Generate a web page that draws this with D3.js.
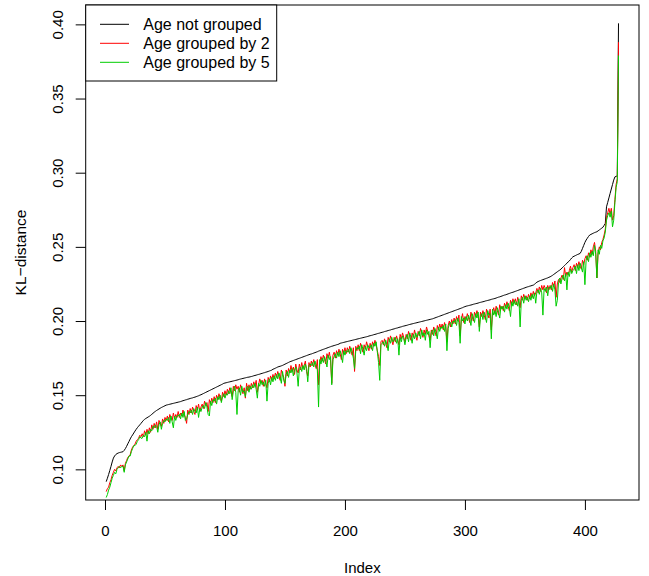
<!DOCTYPE html>
<html lang="en">
<head>
<meta charset="UTF-8">
<title>KL-distance by index</title>
<script src="https://d3js.org/d3.v7.min.js"></script>
<style>
  body { margin: 0; background: #fff; }
  text { font-family: "Liberation Sans", Arial, sans-serif; fill: #000; }
</style>
</head>
<body>
<script>
// KL-distance, sorted by the ungrouped value (index 1..428)
var notGrouped = [
  .0917,.0940,.0965,.0992,.1020,.1050,.1076,.1090,.1100,.1106,
  .1110,.1113,.1115,.1117,.1119,.1128,.1140,.1155,.1172,.1188,
  .1205,.1220,.1232,.1245,.1258,.1270,.1281,.1291,.1300,.1310,
  .1320,.1330,.1337,.1343,.1348,.1353,.1358,.1364,.1371,.1378,
  .1385,.1391,.1397,.1402,.1407,.1412,.1417,.1421,.1425,.1429,
  .1433,.1435,.1437,.1439,.1441,.1443,.1445,.1447,.1449,.1451,
  .1453,.1455,.1457,.1460,.1463,.1465,.1468,.1470,.1473,.1475,
  .1478,.1480,.1482,.1485,.1487,.1490,.1493,.1496,.1500,.1503,
  .1507,.1511,.1515,.1519,.1523,.1527,.1531,.1535,.1539,.1543,
  .1547,.1551,.1555,.1559,.1563,.1567,.1571,.1575,.1580,.1582,
  .1584,.1586,.1588,.1590,.1592,.1594,.1596,.1598,.1600,.1602,
  .1604,.1607,.1609,.1611,.1613,.1615,.1617,.1619,.1621,.1622,
  .1624,.1626,.1628,.1631,.1633,.1635,.1638,.1640,.1642,.1645,
  .1647,.1650,.1652,.1655,.1657,.1660,.1663,.1666,.1669,.1675,
  .1678,.1682,.1686,.1690,.1693,.1695,.1698,.1701,.1705,.1709,
  .1713,.1717,.1721,.1725,.1728,.1731,.1734,.1737,.1740,.1743,
  .1746,.1749,.1752,.1755,.1758,.1761,.1764,.1767,.1770,.1773,
  .1776,.1778,.1781,.1784,.1787,.1790,.1793,.1797,.1800,.1803,
  .1806,.1809,.1812,.1815,.1818,.1821,.1824,.1827,.1830,.1832,
  .1835,.1837,.1840,.1842,.1845,.1850,.1852,.1854,.1856,.1858,
  .1860,.1862,.1864,.1866,.1868,.1870,.1872,.1874,.1876,.1878,
  .1880,.1882,.1884,.1886,.1888,.1890,.1892,.1894,.1896,.1899,
  .1901,.1903,.1905,.1908,.1910,.1912,.1915,.1917,.1919,.1922,
  .1924,.1926,.1929,.1931,.1933,.1936,.1938,.1940,.1943,.1945,
  .1947,.1950,.1952,.1954,.1957,.1959,.1961,.1964,.1966,.1968,
  .1970,.1972,.1975,.1977,.1979,.1981,.1983,.1985,.1987,.1989,
  .1991,.1993,.1995,.1997,.1999,.2001,.2003,.2005,.2007,.2009,
  .2011,.2013,.2015,.2018,.2021,.2024,.2027,.2030,.2033,.2036,
  .2039,.2042,.2045,.2048,.2051,.2054,.2057,.2060,.2063,.2066,
  .2069,.2072,.2075,.2078,.2081,.2084,.2087,.2090,.2094,.2097,
  .2100,.2102,.2104,.2106,.2108,.2110,.2113,.2115,.2117,.2119,
  .2121,.2124,.2126,.2128,.2130,.2132,.2135,.2137,.2139,.2141,
  .2143,.2146,.2148,.2150,.2152,.2155,.2158,.2161,.2163,.2166,
  .2169,.2172,.2175,.2177,.2180,.2183,.2186,.2189,.2192,.2194,
  .2197,.2200,.2203,.2206,.2209,.2212,.2215,.2218,.2221,.2224,
  .2227,.2230,.2232,.2235,.2237,.2240,.2242,.2248,.2255,.2262,
  .2266,.2270,.2273,.2276,.2279,.2282,.2285,.2288,.2291,.2295,
  .2298,.2303,.2308,.2314,.2320,.2326,.2332,.2338,.2343,.2350,
  .2358,.2366,.2374,.2382,.2390,.2398,.2405,.2415,.2425,.2433,
  .2437,.2441,.2445,.2449,.2452,.2456,.2470,.2490,.2510,.2530,
  .2546,.2558,.2570,.2580,.2584,.2588,.2592,.2596,.2599,.2602,
  .2608,.2614,.2620,.2626,.2632,.2645,.2658,.2770,.2800,.2830,
  .2860,.2890,.2920,.2950,.2972,.2975,.2980,.4007
];

var groupedBy2 = [
  .085,.087,.088,.091,.093,.096,.098,.100,.099,.101,
  .102,.101,.103,.102,.103,.099,.104,.106,.108,.109,
  .110,.113,.115,.116,.117,.119,.120,.121,.123,.122,
  .124,.122,.126,.123,.127,.124,.128,.125,.130,.127,
  .131,.128,.132,.127,.133,.131,.129,.134,.131,.135,
  .133,.136,.132,.137,.135,.133,.138,.134,.137,.135,
  .139,.135,.138,.136,.140,.137,.135,.131,.140,.137,
  .141,.138,.142,.139,.137,.143,.140,.144,.139,.142,
  .144,.141,.146,.143,.145,.139,.147,.144,.148,.145,
  .149,.145,.150,.147,.151,.148,.146,.152,.149,.153,
  .150,.154,.151,.155,.152,.149,.156,.153,.157,.154,
  .156,.152,.157,.154,.151,.155,.148,.158,.153,.157,
  .154,.158,.155,.159,.156,.160,.152,.157,.161,.158,
  .160,.156,.161,.158,.155,.162,.159,.163,.160,.164,
  .161,.165,.162,.166,.163,.160,.167,.164,.162,.156,
  .167,.163,.168,.165,.170,.166,.169,.164,.171,.167,
  .165,.171,.167,.172,.168,.170,.173,.166,.163,.172,
  .169,.173,.170,.174,.171,.168,.174,.157,.172,.176,
  .173,.177,.174,.171,.178,.175,.179,.174,.158,.177,
  .179,.175,.180,.177,.181,.178,.174,.181,.178,.182,
  .178,.182,.179,.183,.180,.177,.182,.166,.183,.180,
  .184,.180,.185,.182,.179,.184,.181,.186,.183,.180,
  .185,.181,.186,.183,.187,.184,.180,.176,.170,.186,
  .187,.184,.188,.185,.182,.189,.186,.190,.187,.184,
  .189,.186,.190,.187,.184,.191,.188,.192,.189,.186,
  .191,.188,.193,.190,.187,.192,.189,.194,.190,.187,
  .193,.190,.195,.192,.189,.194,.191,.196,.193,.190,
  .187,.194,.191,.196,.193,.190,.197,.194,.198,.195,
  .198,.194,.199,.196,.186,.197,.200,.196,.201,.198,
  .202,.198,.203,.200,.204,.190,.201,.205,.199,.203,
  .201,.205,.202,.199,.206,.203,.200,.206,.203,.207,
  .204,.196,.206,.203,.207,.204,.201,.208,.205,.202,
  .208,.194,.206,.209,.205,.210,.207,.204,.211,.208,
  .210,.207,.212,.209,.213,.210,.207,.214,.211,.215,
  .212,.215,.211,.216,.213,.209,.217,.214,.218,.215,
  .217,.214,.218,.215,.219,.216,.220,.217,.219,.222,
  .219,.223,.220,.224,.221,.224,.222,.219,.224,.221,
  .224,.221,.226,.223,.227,.216,.225,.228,.226,.229,
  .231,.228,.236,.230,.233,.231,.234,.237,.233,.236,
  .238,.234,.239,.236,.240,.237,.235,.241,.238,.242,
  .244,.241,.246,.243,.248,.245,.250,.253,.247,.229,
  .246,.250,.248,.253,.255,.258,.262,.270,.273,.276,
  .272,.276,.268,.271,.282,.292,.296,.388
];

var groupedBy5 = [
  .081,.083,.086,.088,.091,.094,.096,.098,.097,.100,
  .101,.102,.101,.102,.102,.098,.103,.105,.107,.109,
  .109,.112,.114,.116,.116,.117,.119,.120,.122,.121,
  .121,.123,.122,.125,.119,.126,.124,.127,.126,.129,
  .128,.130,.129,.125,.130,.132,.127,.131,.133,.132,
  .134,.133,.135,.131,.136,.132,.128,.136,.133,.136,
  .136,.137,.134,.138,.135,.139,.133,.134,.137,.139,
  .138,.140,.137,.141,.139,.138,.142,.135,.141,.139,
  .142,.143,.141,.145,.142,.137,.136,.146,.143,.147,
  .146,.148,.144,.149,.147,.150,.145,.149,.151,.148,
  .151,.150,.153,.151,.155,.147,.153,.156,.152,.137,
  .153,.155,.150,.156,.152,.153,.149,.155,.156,.152,
  .156,.154,.157,.155,.158,.154,.148,.158,.156,.160,
  .157,.159,.156,.160,.146,.158,.161,.157,.162,.159,
  .163,.160,.164,.161,.165,.162,.158,.166,.160,.158,
  .164,.166,.162,.167,.165,.168,.163,.167,.169,.165,
  .156,.168,.169,.166,.170,.167,.171,.168,.159,.170,
  .171,.170,.172,.169,.173,.170,.167,.142,.174,.171,
  .175,.172,.176,.173,.169,.177,.174,.176,.157,.174,
  .176,.178,.175,.179,.176,.180,.177,.172,.180,.177,
  .180,.179,.181,.178,.182,.179,.175,.168,.180,.182,
  .181,.183,.178,.184,.181,.177,.183,.180,.184,.182,
  .182,.184,.180,.185,.183,.186,.179,.172,.160,.184,
  .185,.186,.183,.187,.184,.180,.188,.185,.189,.186,
  .187,.189,.185,.188,.177,.189,.186,.190,.188,.184,
  .189,.191,.186,.192,.189,.185,.191,.188,.192,.189,
  .191,.193,.188,.194,.190,.192,.187,.194,.191,.193,
  .182,.192,.194,.190,.195,.192,.188,.196,.193,.196,
  .195,.197,.193,.198,.180,.195,.198,.199,.196,.200,
  .199,.201,.197,.202,.199,.185,.203,.200,.202,.198,
  .203,.200,.204,.201,.197,.205,.202,.199,.205,.202,
  .206,.193,.203,.205,.201,.206,.203,.199,.207,.204,
  .205,.188,.208,.204,.207,.203,.209,.206,.202,.210,
  .208,.210,.206,.211,.208,.212,.209,.203,.213,.210,
  .214,.211,.213,.210,.215,.196,.214,.216,.212,.217,
  .214,.216,.213,.217,.214,.218,.215,.219,.212,.220,
  .221,.218,.222,.219,.204,.222,.220,.223,.217,.223,
  .222,.224,.220,.225,.221,.210,.214,.226,.229,.225,
  .229,.231,.227,.232,.221,.233,.230,.235,.232,.234,
  .235,.237,.232,.238,.234,.239,.236,.233,.240,.2245,
  .241,.244,.240,.246,.243,.247,.244,.251,.245,.229,
  .248,.245,.251,.249,.254,.256,.260,.268,.271,.273,
  .270,.274,.2635,.268,.280,.290,.294,.379
];

var seriesNames = ["Age not grouped", "Age grouped by 2", "Age grouped by 5"];
var seriesColors = ["#000000", "#ff0000", "#00cd00"];
var xTicks = [0, 100, 200, 300, 400];
var yTicks = [0.10, 0.15, 0.20, 0.25, 0.30, 0.35, 0.40];

var w = 649;
var h = 576;
var plotL = 85.7, plotR = 639, plotT = 5, plotB = 500;

var svg = d3.select("body")
            .append("svg")
            .attr("width", w)
            .attr("height", h);

// R style: data range padded by 4% on each side
var n = notGrouped.length;
var xPad = (n - 1) * 0.04;
var yExt = d3.extent(notGrouped);
var yPad = (yExt[1] - yExt[0]) * 0.04;

var xScale = d3.scaleLinear()
               .domain([1 - xPad, n + xPad])
               .range([plotL, plotR]);

var yScale = d3.scaleLinear()
               .domain([yExt[0] - yPad, yExt[1] + yPad])
               .range([plotB, plotT]);

svg.append("clipPath")
   .attr("id", "plotclip")
   .append("rect")
   .attr("x", plotL)
   .attr("y", plotT)
   .attr("width", plotR - plotL)
   .attr("height", plotB - plotT);

var line = d3.line()
             .x(function(d, i) { return xScale(i + 1); })
             .y(function(d) { return yScale(d); });

var allSeries = [notGrouped, groupedBy2, groupedBy5];

svg.append("g")
   .attr("clip-path", "url(#plotclip)")
   .selectAll("path")
   .data(allSeries)
   .enter()
   .append("path")
   .attr("d", line)
   .attr("fill", "none")
   .attr("stroke", function(d, i) { return seriesColors[i]; })
   .attr("stroke-width", 1);

// axes
var xAxis = svg.append("g")
               .attr("transform", "translate(0," + plotB + ")")
               .call(d3.axisBottom(xScale).tickValues(xTicks).tickSize(10).tickPadding(15));

var yAxis = svg.append("g")
               .attr("transform", "translate(" + plotL + ",0)")
               .call(d3.axisLeft(yScale).tickValues(yTicks).tickSize(10).tickFormat(d3.format(".2f")));

[xAxis, yAxis].forEach(function(ax) {
    ax.select(".domain").remove();
    ax.selectAll(".tick line").attr("stroke", "#000");
    ax.selectAll("text")
      .style("font-size", "15px")
      .style("font-family", "'Liberation Sans', Arial, sans-serif")
      .attr("fill", "#000");
});

yAxis.selectAll(".tick text")
     .attr("x", null)
     .attr("dy", null)
     .attr("text-anchor", "middle")
     .attr("transform", "translate(-22.2,0) rotate(-90)");

// plot box
svg.append("rect")
   .attr("x", plotL)
   .attr("y", plotT)
   .attr("width", plotR - plotL)
   .attr("height", plotB - plotT)
   .attr("fill", "none")
   .attr("stroke", "#000")
   .attr("stroke-width", 1);

// axis titles
svg.append("text")
   .attr("x", (plotL + plotR) / 2)
   .attr("y", 573)
   .attr("text-anchor", "middle")
   .style("font-size", "15px")
   .text("Index");

svg.append("text")
   .attr("transform", "translate(26," + ((plotT + plotB) / 2) + ") rotate(-90)")
   .attr("text-anchor", "middle")
   .style("font-size", "15.5px")
   .text("KL\u2212distance");

// legend
var legend = svg.append("g");

legend.append("rect")
      .attr("x", plotL)
      .attr("y", plotT)
      .attr("width", 191)
      .attr("height", 76)
      .attr("fill", "#fff")
      .attr("stroke", "#000")
      .attr("stroke-width", 1);

var rows = legend.selectAll("g.row")
                 .data(seriesNames)
                 .enter()
                 .append("g")
                 .attr("class", "row")
                 .attr("transform", function(d, i) { return "translate(0," + (24.3 + i * 19) + ")"; });

rows.append("line")
    .attr("x1", 100)
    .attr("x2", 129)
    .attr("stroke", function(d, i) { return seriesColors[i]; })
    .attr("stroke-width", 1);

rows.append("text")
    .attr("x", 143.3)
    .attr("dy", "0.37em")
    .style("font-size", "16px")
    .text(function(d) { return d; });
</script>
</body>
</html>
